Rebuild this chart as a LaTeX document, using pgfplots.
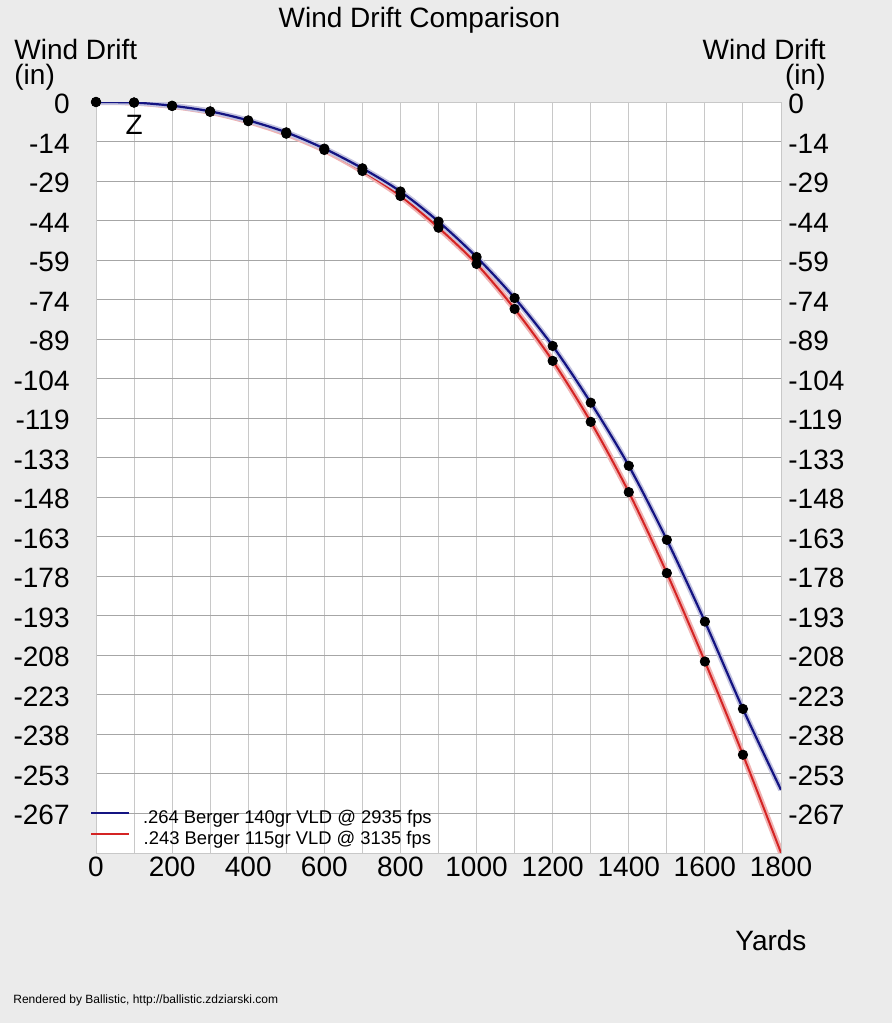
\documentclass[border=0pt]{standalone}
\usepackage{pgfplots}
\pgfplotsset{compat=1.18}
\usepackage{pgfplotstable}
\usepackage{fontspec}
\setmainfont{Liberation Sans}

\definecolor{bg}{HTML}{EBEBEB}
\definecolor{navy}{HTML}{141482}
\definecolor{rd}{HTML}{D42424}
\definecolor{hgrid}{HTML}{A6A6A6}
\definecolor{vgrid}{HTML}{C8C8C8}
\newcommand\fs{\fontsize{14}{16.8}\selectfont}

% yards, .264 (blue), .243 (red), drift in inches
\pgfplotstableread{
yd   blue    red
0    0       0
100  -0.2    -0.2
200  -1.4    -1.5
300  -3.5    -3.7
400  -6.9    -7.2
500  -11.4   -11.9
600  -17.5   -18.0
700  -24.9   -25.9
800  -33.6   -35.3
900  -44.9   -47.2
1000 -58.2   -60.8
1100 -73.6   -77.7
1200 -91.6   -97.2
1300 -112.9  -120.1
1400 -136.6  -146.5
1500 -164.4  -176.9
1600 -195.1  -210.1
1700 -227.9  -245.1
1800 -258.3  -281.9
}\drift

\begin{document}
\begin{tikzpicture}
\fill[bg] (0,0) rectangle (446pt,-511.5pt);
\pgfplotsset{common/.style={
    width=342.5pt, height=375.5pt, scale only axis,
    at={(48pt,-426.5pt)}, anchor=south west,
    xmin=0, xmax=1800, ymin=-282, ymax=0,
    ytick={0,-14.8333,-29.6667,-44.5,-59.3333,-74.1667,-89,-103.8333,-118.6667,-133.5,
           -148.3333,-163.1667,-178,-192.8333,-207.6667,-222.5,-237.3333,-252.1667,-267},
    yticklabels={0,-14,-29,-44,-59,-74,-89,-104,-119,-133,-148,-163,-178,-193,-208,-223,-238,-253,-267},
    major tick length=0pt, minor tick length=0pt,
    /pgf/number format/assume math mode=true,
    /pgf/number format/1000 sep={},
    ticklabel style={font=\fs, inner sep=0pt},
}}
\begin{axis}[common,
    axis background/.style={fill=white},
    axis line style={draw=vgrid, line width=0.5pt},
    xtick={0,200,...,1800}, minor xtick={100,300,...,1700},
    xmajorgrids, xminorgrids, ymajorgrids,
    major x grid style={vgrid, line width=0.5pt},
    minor x grid style={vgrid, line width=0.5pt},
    major y grid style={hgrid, line width=0.5pt},
    yticklabel style={anchor=east, xshift=-13pt, yshift=-1pt},
    xticklabel style={anchor=north, yshift=-2pt},
    reverse legend,
    legend style={at={(-0.009,0.059)}, anchor=north west, draw=none, fill=none,
        inner sep=0pt, font=\fontsize{9.2}{11}\selectfont,
        nodes={inner sep=0pt, text height=7pt, text depth=2pt},
        row sep=1.5pt,
        /tikz/every odd column/.append style={column sep=6.3pt}},
    legend image code/.code={\draw[#1] (0pt,2.5pt) -- (19pt,2.5pt);},
]
\addplot[rd!35, line width=3pt, smooth, forget plot] table[x=yd, y=red]{\drift};
\addplot[rd, line width=1pt, smooth] table[x=yd, y=red]{\drift};
\addlegendentry{.243 Berger 115gr VLD @ 3135 fps}
\addplot[navy!25, line width=2.8pt, smooth, forget plot] table[x=yd, y=blue]{\drift};
\addplot[navy, line width=1.1pt, smooth] table[x=yd, y=blue]{\drift};
\addlegendentry{.264 Berger 140gr VLD @ 2935 fps}
\addplot[only marks, mark=*, mark size=2.35pt, black, restrict x to domain=0:1750, forget plot]
    table[x=yd, y=red]{\drift};
\addplot[only marks, mark=*, mark size=2.35pt, black, restrict x to domain=0:1750, forget plot]
    table[x=yd, y=blue]{\drift};
\node[font=\fs] at (axis cs:100,-8.6) {Z};
\end{axis}
\begin{axis}[common,
    axis line style={draw=none},
    xtick=\empty,
    yticklabel pos=right,
    yticklabel style={anchor=west, xshift=3.5pt, yshift=-1pt},
]
\end{axis}
\node[font=\fs, anchor=base, inner sep=0pt] at (209.75pt,-13.5pt) {Wind Drift Comparison};
\node[font=\fs, anchor=base west, inner sep=0pt] at (7pt,-29.5pt) {Wind Drift};
\node[font=\fs, anchor=base west, inner sep=0pt] at (7pt,-42pt) {(in)};
\node[font=\fs, anchor=base east, inner sep=0pt] at (413pt,-29.5pt) {Wind Drift};
\node[font=\fs, anchor=base east, inner sep=0pt] at (413pt,-42pt) {(in)};
\node[font=\fs, anchor=base west, inner sep=0pt] at (367.5pt,-475pt) {Yards};
\node[font=\fontsize{6}{7}\selectfont, anchor=base west, inner sep=0pt] at (6.5pt,-501.5pt)
    {Rendered by Ballistic, http://ballistic.zdziarski.com};
\end{tikzpicture}
\end{document}
